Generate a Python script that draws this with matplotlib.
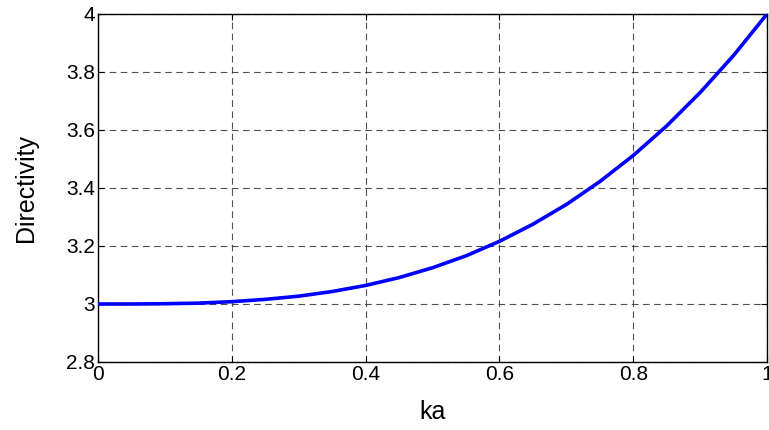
import matplotlib
matplotlib.use("Agg")
import matplotlib.pyplot as plt

ka = [0.0, 0.05, 0.1, 0.15, 0.2, 0.25, 0.3, 0.35, 0.4, 0.45, 0.5,
      0.55, 0.6, 0.65, 0.7, 0.75, 0.8, 0.85, 0.9, 0.95, 1.0]
directivity = [3.0, 3.0, 3.001, 3.003, 3.008, 3.016, 3.027, 3.043, 3.064, 3.091, 3.125,
               3.166, 3.216, 3.275, 3.343, 3.422, 3.512, 3.614, 3.729, 3.857, 4.0]
xticks = [0, 0.2, 0.4, 0.6, 0.8, 1]
xticklabels = ["0", "0.2", "0.4", "0.6", "0.8", "1"]
yticks = [2.8, 3.0, 3.2, 3.4, 3.6, 3.8, 4.0]
yticklabels = ["2.8", "3", "3.2", "3.4", "3.6", "3.8", "4"]

plt.rcParams['font.family'] = ['Liberation Sans', 'DejaVu Sans']

fig = plt.figure(figsize=(7.69, 4.30), dpi=100)
ax = fig.add_axes([98/769, 68/430, 669/769, 348/430])
ax.plot(ka, directivity, color='#0000ff', lw=2.6, zorder=3)
ax.set_xlim(0, 1)
ax.set_ylim(2.8, 4)
ax.set_xticks(xticks)
ax.set_xticklabels(xticklabels)
ax.set_yticks(yticks)
ax.set_yticklabels(yticklabels)
ax.grid(True, color='#333333', linestyle=(0, (6, 4)), lw=0.8, alpha=0.85)
ax.tick_params(direction='in', length=4, width=0.8, labelsize=15, pad=2,
               top=True, right=True)
for s in ax.spines.values():
    s.set_linewidth(1.0)
    s.set_color('black')
ax.set_xlabel('ka', fontsize=18, labelpad=12)
ax.set_ylabel('Directivity', fontsize=18, labelpad=20)
fig.savefig('out.png', dpi=100)
